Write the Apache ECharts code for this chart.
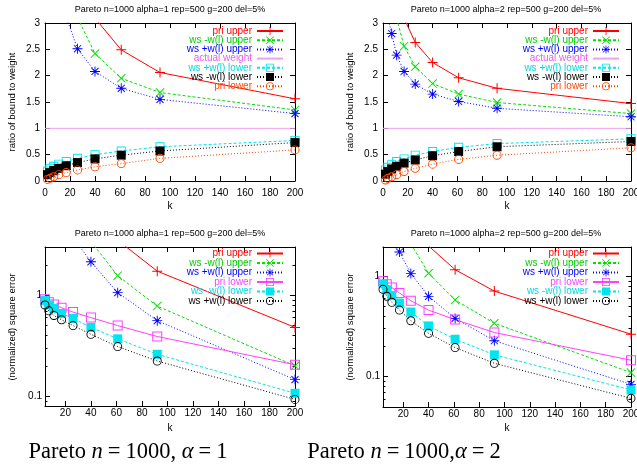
<!DOCTYPE html>
<html><head><meta charset="utf-8">
<script src="https://cdn.jsdelivr.net/npm/echarts@6/dist/echarts.min.js"></script>
<style>html,body{margin:0;padding:0;background:#fff}#c{width:637px;height:469px}</style>
</head><body><div id="c"></div><script>
// ---------- DATA ----------
const kTop = [2, 4, 7, 11, 17, 26, 40, 61, 92, 200];
const kBottom = [4, 7, 11, 17, 26, 40, 61, 92, 200];
const actualX = [0, 200];
const actualY = [1, 1];

// top-left: alpha=1, ratio of bound to weight
const a1PriUpper      = [null, null, null, null, null, null, 3.09, 2.49, 2.06, 1.56];
const a1WsMinusUpper  = [null, null, null, null, null, 3.10, 2.42, 1.95, 1.68, 1.35];
const a1WsPlusUpper   = [null, null, null, null, 3.12, 2.51, 2.08, 1.76, 1.55, 1.28];
const a1WsPlusLower   = [0.19, 0.24, 0.28, 0.32, 0.37, 0.43, 0.50, 0.57, 0.65, 0.77];
const a1WsMinusLower  = [0.12, 0.16, 0.20, 0.24, 0.29, 0.35, 0.42, 0.49, 0.57, 0.73];
const a1PriLower      = [0.03, 0.05, 0.08, 0.12, 0.16, 0.21, 0.27, 0.33, 0.43, 0.59];

// top-right: alpha=2
const a2PriUpper      = [null, null, null, null, 3.09, 2.63, 2.25, 1.96, 1.76, 1.47];
const a2WsMinusUpper  = [null, null, null, 3.09, 2.56, 2.17, 1.85, 1.65, 1.49, 1.28];
const a2WsPlusUpper   = [null, 3.10, 2.80, 2.39, 2.08, 1.84, 1.65, 1.51, 1.38, 1.22];
const a2WsPlusLower   = [0.21, 0.26, 0.31, 0.37, 0.42, 0.49, 0.56, 0.64, 0.71, 0.80];
const a2WsMinusLower  = [0.13, 0.18, 0.23, 0.28, 0.34, 0.40, 0.48, 0.56, 0.65, 0.75];
const a2PriLower      = [0.02, 0.05, 0.08, 0.12, 0.18, 0.24, 0.32, 0.41, 0.49, 0.63];

// bottom-left: alpha=1, (normalized) square error
const b1PriUpper      = [null, null, null, null, null, null, 3.5, 1.73, 0.48];
const b1WsMinusUpper  = [null, null, null, null, null, 3.4, 1.56, 0.78, 0.20];
const b1WsPlusUpper   = [null, null, null, null, 3.75, 2.14, 1.06, 0.56, 0.146];
const b1PriLower      = [0.91, 0.85, 0.81, 0.75, 0.68, 0.60, 0.50, 0.39, 0.205];
const b1WsMinusLower  = [0.89, 0.80, 0.74, 0.66, 0.59, 0.48, 0.37, 0.26, 0.107];
const b1WsPlusLower   = [0.80, 0.70, 0.63, 0.57, 0.50, 0.41, 0.31, 0.223, 0.093];

// bottom-right: alpha=2
const b2PriUpper      = [null, null, null, null, null, 2.0, 1.16, 0.71, 0.265];
const b2WsMinusUpper  = [null, null, null, null, 2.1, 1.07, 0.58, 0.34, 0.11];
const b2WsPlusUpper   = [null, null, 2.3, 1.74, 1.06, 0.63, 0.38, 0.228, 0.084];
const b2PriLower      = [0.89, 0.83, 0.77, 0.68, 0.57, 0.46, 0.37, 0.275, 0.146];
const b2WsMinusLower  = [0.84, 0.73, 0.64, 0.54, 0.44, 0.32, 0.236, 0.165, 0.074];
const b2WsPlusLower   = [0.74, 0.63, 0.55, 0.46, 0.36, 0.27, 0.195, 0.136, 0.061];

// tick labels
const xTicksBottom = [20, 40, 60, 80, 100, 120, 140, 160, 180, 200];
const yLogMajor = [0.1, 1];
const yLogMinorLeft = [0.08, 0.09, 0.2, 0.3, 0.4, 0.5, 0.6, 0.7, 0.8, 0.9, 2, 3];
const yLogMinorRight = [0.05, 0.06, 0.07, 0.08, 0.09, 0.2, 0.3, 0.4, 0.5, 0.6, 0.7, 0.8, 0.9];

// ---------- STYLE ----------
const SANS = '"Liberation Sans", Arial, sans-serif';
const SYM_PLUS = 'path://M-1,-0.1L1,-0.1L1,0.1L-1,0.1Z M-0.1,-1L0.1,-1L0.1,1L-0.1,1Z';
const SYM_X = 'path://M-0.92,-1.08L1.08,0.92L0.92,1.08L-1.08,-0.92Z M1.08,-0.92L-0.92,1.08L-1.08,0.92L0.92,-1.08Z';
const SYM_STAR = 'path://M-1,-0.09L1,-0.09L1,0.09L-1,0.09Z M-0.09,-1L0.09,-1L0.09,1L-0.09,1Z M-0.64,-0.77L0.77,0.64L0.64,0.77L-0.77,-0.64Z M0.77,-0.64L-0.64,0.77L-0.77,0.64L0.64,-0.77Z';
const SYM_OSQ = 'path://M-1,-1L1,-1L1,1L-1,1Z M-0.8,-0.8L-0.8,0.8L0.8,0.8L0.8,-0.8Z';
const SYM_OCIRC = 'path://M-1,0A1,1,0,1,1,1,0A1,1,0,1,1,-1,0Z M-0.8,0A0.8,0.8,0,1,0,0.8,0A0.8,0.8,0,1,0,-0.8,0Z';
const DASH = [3, 2], DOT = [1, 2];

const grids = [
  {left: 45, top: 23, width: 250, height: 158, outerBoundsMode: 'none'},
  {left: 383, top: 23, width: 248, height: 158, outerBoundsMode: 'none'},
  {left: 45, top: 247, width: 250, height: 159, outerBoundsMode: 'none'},
  {left: 383, top: 247, width: 248, height: 160, outerBoundsMode: 'none'}
];

const xAxes = [], yAxes = [];
const axLine = {show: true, onZero: false, lineStyle: {color: '#000', width: 1}};
function addX(g, opt) {
  const base = {gridIndex: g, type: 'value', axisLine: axLine, splitLine: {show: false},
    axisTick: {inside: true, length: 5, lineStyle: {color: '#000'}},
    axisLabel: {color: '#000', fontSize: 10, fontFamily: SANS}};
  xAxes.push(Object.assign(base, opt));
  return xAxes.length - 1;
}
function addY(g, opt) {
  const base = {gridIndex: g, type: 'value', axisLine: axLine, splitLine: {show: false},
    axisTick: {inside: true, length: 5, lineStyle: {color: '#000'}},
    axisLabel: {color: '#000', fontSize: 10, fontFamily: SANS}};
  yAxes.push(Object.assign(base, opt));
  return yAxes.length - 1;
}

const axisIdx = [];
for (let g = 0; g < 2; g++) {
  const xi = addX(g, {min: 0, max: 200, interval: 20, position: 'bottom',
    axisLabel: {color: '#000', fontSize: 10, fontFamily: SANS, margin: 7}});
  addX(g, {min: 0, max: 200, interval: 20, position: 'top', axisLabel: {show: false}});
  const yi = addY(g, {min: 0, max: 3, interval: 0.5, position: 'left',
    axisLabel: {color: '#000', fontSize: 10, fontFamily: SANS, margin: 5}});
  addY(g, {min: 0, max: 3, interval: 0.5, position: 'right', axisLabel: {show: false}});
  axisIdx.push([xi, yi]);
}
const logRanges = [[0.08, 3], [0.05, 1.95]];
const minorSets = [yLogMinorLeft, yLogMinorRight];
for (let g = 2; g < 4; g++) {
  const xt = {inside: true, length: 5, customValues: xTicksBottom, lineStyle: {color: '#000'}};
  const xi = addX(g, {min: 4, max: 200, position: 'bottom', axisTick: xt,
    axisLabel: {color: '#000', fontSize: 10, fontFamily: SANS, margin: 2, customValues: xTicksBottom}});
  addX(g, {min: 4, max: 200, position: 'top', axisTick: xt, axisLabel: {show: false}});
  const r = logRanges[g - 2];
  const yt = {inside: true, length: 5, customValues: yLogMajor, lineStyle: {color: '#000'}};
  const ym = {inside: true, length: 2.5, customValues: minorSets[g - 2], lineStyle: {color: '#000'}};
  const yi = addY(g, {type: 'log', logBase: 10, min: r[0], max: r[1], position: 'left', axisTick: yt,
    axisLabel: {color: '#000', fontSize: 10, fontFamily: SANS, margin: 3, customValues: yLogMajor,
      formatter: v => String(v)}});
  addY(g, {type: 'log', logBase: 10, min: r[0], max: r[1], position: 'right', axisTick: yt, axisLabel: {show: false}});
  addY(g, {type: 'log', logBase: 10, min: r[0], max: r[1], position: 'left', axisTick: ym, axisLine: {show: false}, axisLabel: {show: false}});
  addY(g, {type: 'log', logBase: 10, min: r[0], max: r[1], position: 'right', axisTick: ym, axisLine: {show: false}, axisLabel: {show: false}});
  axisIdx.push([xi, yi]);
}

function pairs(xs, ys) { return xs.map((x, i) => [x, ys[i] == null ? '-' : ys[i]]); }

const panels = [
  {g: 0, right: 353, top: 26, gap: -0.8, items: [
    ['pri upper', kTop, a1PriUpper, '#ff0000', 'solid', SYM_PLUS, 10, '#ff0000'],
    ['ws -w(l) upper', kTop, a1WsMinusUpper, '#00e000', DASH, SYM_X, 9, '#00d000'],
    ['ws +w(l) upper', kTop, a1WsPlusUpper, '#0000ff', DOT, SYM_STAR, 10, '#0000ff'],
    ['actual weight', actualX, actualY, '#f0a0f0', 'solid', 'none', 0, '#e860e8'],
    ['ws +w(l) lower', kTop, a1WsPlusLower, '#00e5ee', DASH, SYM_OSQ, 9, '#00d8e8'],
    ['ws -w(l) lower', kTop, a1WsMinusLower, '#000000', DOT, 'rect', 9, '#000000'],
    ['pri lower', kTop, a1PriLower, '#ff4500', DOT, SYM_OCIRC, 9, '#ff4500']
  ]},
  {g: 1, right: 17, top: 26, gap: -0.8, items: [
    ['pri upper', kTop, a2PriUpper, '#ff0000', 'solid', SYM_PLUS, 10, '#ff0000'],
    ['ws -w(l) upper', kTop, a2WsMinusUpper, '#00e000', DASH, SYM_X, 9, '#00d000'],
    ['ws +w(l) upper', kTop, a2WsPlusUpper, '#0000ff', DOT, SYM_STAR, 10, '#0000ff'],
    ['actual weight', actualX, actualY, '#f0a0f0', 'solid', 'none', 0, '#e860e8'],
    ['ws +w(l) lower', kTop, a2WsPlusLower, '#00e5ee', DASH, SYM_OSQ, 9, '#00d8e8'],
    ['ws -w(l) lower', kTop, a2WsMinusLower, '#000000', DOT, 'rect', 9, '#000000'],
    ['pri lower', kTop, a2PriLower, '#ff4500', DOT, SYM_OCIRC, 9, '#ff4500']
  ]},
  {g: 2, right: 353, top: 248.5, gap: -0.5, items: [
    ['pri upper', kBottom, b1PriUpper, '#ff0000', 'solid', SYM_PLUS, 10, '#ff0000'],
    ['ws -w(l) upper', kBottom, b1WsMinusUpper, '#00e000', DASH, SYM_X, 9, '#00d000'],
    ['ws +w(l) upper', kBottom, b1WsPlusUpper, '#0000ff', DOT, SYM_STAR, 10, '#0000ff'],
    ['pri lower', kBottom, b1PriLower, '#ff40ff', 'solid', SYM_OSQ, 10, '#ff40ff'],
    ['ws -w(l) lower', kBottom, b1WsMinusLower, '#00e5ee', DASH, 'rect', 9, '#00d8e8'],
    ['ws +w(l) lower', kBottom, b1WsPlusLower, '#000000', DOT, SYM_OCIRC, 9, '#000000']
  ]},
  {g: 3, right: 17, top: 248.5, gap: -0.5, items: [
    ['pri upper', kBottom, b2PriUpper, '#ff0000', 'solid', SYM_PLUS, 10, '#ff0000'],
    ['ws -w(l) upper', kBottom, b2WsMinusUpper, '#00e000', DASH, SYM_X, 9, '#00d000'],
    ['ws +w(l) upper', kBottom, b2WsPlusUpper, '#0000ff', DOT, SYM_STAR, 10, '#0000ff'],
    ['pri lower', kBottom, b2PriLower, '#ff40ff', 'solid', SYM_OSQ, 10, '#ff40ff'],
    ['ws -w(l) lower', kBottom, b2WsMinusLower, '#00e5ee', DASH, 'rect', 9, '#00d8e8'],
    ['ws +w(l) lower', kBottom, b2WsPlusLower, '#000000', DOT, SYM_OCIRC, 9, '#000000']
  ]}
];

const series = [], legends = [];
panels.forEach(p => {
  const [xi, yi] = axisIdx[p.g];
  const legendData = [];
  p.items.forEach(it => {
    const [name, xs, ys, color, ltype, sym, size, tcolor] = it;
    const sname = name + '#' + p.g;
    series.push({
      type: 'line', name: sname, xAxisIndex: xi, yAxisIndex: yi,
      data: pairs(xs, ys), clip: true, animation: false,
      symbol: sym, symbolSize: size, showSymbol: sym !== 'none',
      lineStyle: {color: color, width: 1, type: ltype},
      itemStyle: {color: color, borderWidth: 0},
      emphasis: {disabled: true}, silent: true
    });
    const d = {name: sname, textStyle: {color: tcolor}};
    if (sym === 'none') d.itemStyle = {color: 'rgba(0,0,0,0)', borderWidth: 0};
    legendData.push(d);
  });
  legends.push({
    orient: 'vertical', align: 'right', right: p.right, top: p.top, padding: 0,
    itemGap: p.gap, itemWidth: 26, itemHeight: 10, selectedMode: false,
    itemStyle: {borderWidth: 0},
    textStyle: {fontSize: 10, fontFamily: SANS, lineHeight: 10},
    formatter: n => n.split('#')[0],
    data: legendData
  });
});

function txt(x, y, text, size, rot) {
  return {type: 'text', x: x, y: y, rotation: rot || 0, silent: true,
    style: {text: text, fill: '#000', font: size + 'px ' + SANS, align: 'center', verticalAlign: 'middle'}};
}
const serif = '"Liberation Serif", "DejaVu Serif", serif';
const rich = {
  r: {fontFamily: serif, fontSize: 22.5, color: '#000'},
  i: {fontFamily: serif, fontSize: 22.5, fontStyle: 'italic', color: '#000'},
  e: {fontFamily: serif, fontSize: 22.5, color: '#000', padding: [0, 5]}
};
const graphics = [
  txt(170, 10, 'Pareto n=1000 alpha=1 rep=500 g=200 del=5%', 9),
  txt(506, 10, 'Pareto n=1000 alpha=2 rep=500 g=200 del=5%', 9),
  txt(170, 234, 'Pareto n=1000 alpha=1 rep=500 g=200 del=5%', 9),
  txt(506, 234, 'Pareto n=1000 alpha=2 rep=500 g=200 del=5%', 9),
  txt(170, 206, 'k', 10), txt(507, 206, 'k', 10),
  txt(170, 428, 'k', 10), txt(507, 428, 'k', 10),
  txt(12, 102, 'ratio of bound to weight', 9.5, Math.PI / 2),
  txt(350, 102, 'ratio of bound to weight', 9.5, Math.PI / 2),
  txt(12, 327, '(normalized) square error', 9.5, Math.PI / 2),
  txt(350, 327, '(normalized) square error', 9.5, Math.PI / 2),
  {type: 'text', x: 128, y: 452, silent: true, style: {
    text: '{r|Pareto }{i|n}{e|=}{r|1000, }{i|α}{e|=}{r|1}', rich: rich, align: 'center', verticalAlign: 'middle'}},
  {type: 'text', x: 404, y: 452, silent: true, style: {
    text: '{r|Pareto }{i|n}{e|=}{r|1000,}{i|α}{e|=}{r|2}', rich: rich, align: 'center', verticalAlign: 'middle'}}
];

const chart = echarts.init(document.getElementById('c'), null, {renderer: 'canvas'});
chart.setOption({
  backgroundColor: '#fff',
  animation: false,
  grid: grids,
  xAxis: xAxes,
  yAxis: yAxes,
  legend: legends,
  series: series,
  graphic: graphics
});
</script></body></html>
